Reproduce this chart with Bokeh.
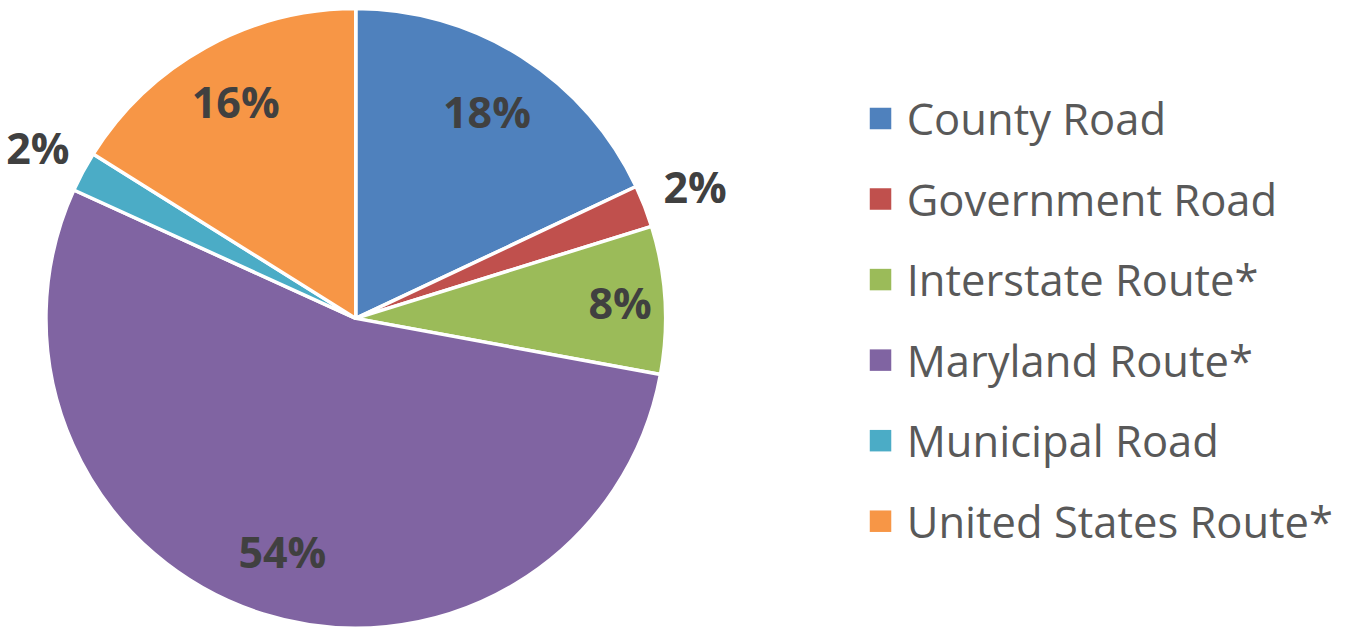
import math
from bokeh.plotting import figure
from bokeh.models import Range1d, ColumnDataSource
from bokeh.core.properties import value
from bokeh.embed import file_html
from bokeh.resources import INLINE

categories = ["County Road", "Government Road", "Interstate Route*",
              "Maryland Route*", "Municipal Road", "United States Route*"]
shares = [18.0, 2.2, 7.7, 53.9, 2.1, 16.1]
colors = ["#4F81BD", "#C0504D", "#9BBB59", "#8064A2", "#4BACC6", "#F79646"]

# label placement (radius fraction of pie radius) - styling only
label_rfrac = [0.79, 1.175, 0.855, 0.79, 1.165, 0.80]

W, H = 1343, 627
REF_W, REF_H = 1359, 643
p = figure(width=W, height=H, output_backend="svg", toolbar_location=None,
           x_range=Range1d(0, REF_W), y_range=Range1d(0, REF_H),
           min_border=0)
p.axis.visible = False
p.grid.visible = False
p.outline_line_color = None
p.background_fill_color = "white"

cx, cy = 359.5, REF_H - 326
R = 313.5  # in x data units
Ry = R * (W / REF_W) / (H / REF_H)  # same radius expressed in y units

total = sum(shares)
starts, ends, lx, ly, labels = [], [], [], [], []
cum = 0.0
for i, s in enumerate(shares):
    a0 = math.pi / 2 - 2 * math.pi * cum / total
    cum += s
    a1 = math.pi / 2 - 2 * math.pi * cum / total
    starts.append(a0)
    ends.append(a1)
    mid = (a0 + a1) / 2
    lx.append(cx + R * label_rfrac[i] * math.cos(mid))
    ly.append(cy + Ry * label_rfrac[i] * math.sin(mid))
    labels.append(f"{round(s / total * 100)}%")

src = ColumnDataSource(dict(start=starts, end=ends, color=colors,
                            lx=lx, ly=ly, label=labels, cat=categories))

p.wedge(x=cx, y=cy, radius=R, start_angle="start", end_angle="end",
        direction="clock", fill_color="color", line_color="white",
        line_width=3.5, source=src)

p.text(x="lx", y="ly", text="label", source=src,
       text_font=value("Open Sans"), text_font_style="bold",
       text_font_size="43px", text_color="#404040",
       text_align="center", text_baseline="middle")

# legend (manual)
leg_x, leg_y0, leg_dy = 890.5, REF_H - 121, 82.6
ys = [leg_y0 - i * leg_dy for i in range(len(categories))]
lsrc = ColumnDataSource(dict(x=[leg_x] * len(categories), y=ys,
                             tx=[leg_x + 26.5] * len(categories),
                             cat=categories, color=colors))
p.scatter(x="x", y="y", marker="square", size=21.5, fill_color="color",
          line_color=None, source=lsrc)
p.text(x="tx", y="y", text="cat", source=lsrc,
       text_font=value("Open Sans"), text_font_size="43.5px",
       text_color="#595959", text_align="left", text_baseline="middle")

open("out.html", "w").write(file_html(p, INLINE))
